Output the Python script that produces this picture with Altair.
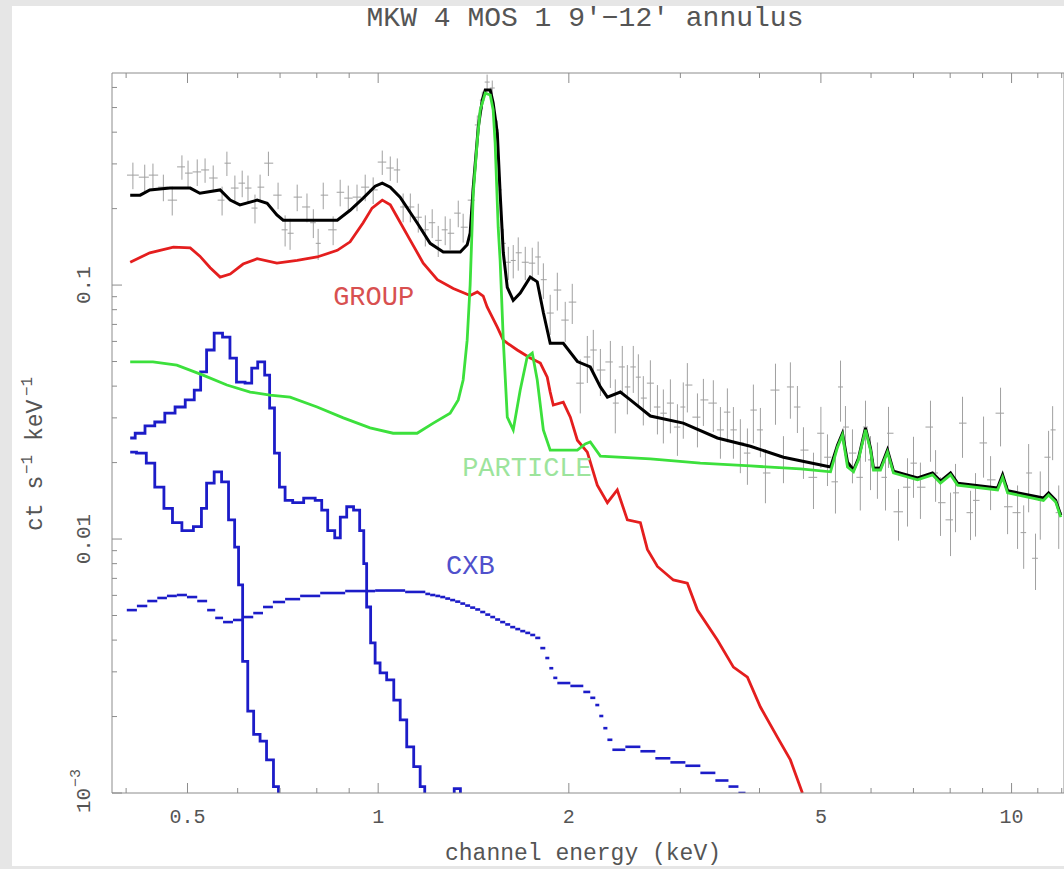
import altair as alt
import pandas as pd
import numpy as np

TITLE = "MKW 4 MOS 1 9′−12′ annulus"
X_TITLE = "channel energy (keV)"
Y_TITLE_PARTS = ["ct s", "−1", "keV", "−1"]

X_DOMAIN = [0.38, 12.1]
Y_DOMAIN = [0.001, 0.684]
X_MAJOR = [0.5, 1, 2, 5, 10]
X_LABELS = ["0.5", "1", "2", "5", "10"]
X_MINOR = [0.4, 0.6, 0.7, 0.8, 0.9, 3, 4, 6, 7, 8, 9, 11, 12]
Y_MAJOR = [0.01, 0.1]
Y_LABELS = ["0.01", "0.1"]
Y_POW = [0.001]
Y_POW_BASE = ["10"]
Y_POW_EXP = ["−3"]
Y_MINOR = [0.002, 0.003, 0.004, 0.005, 0.006, 0.007, 0.008, 0.009,
           0.02, 0.03, 0.04, 0.05, 0.06, 0.07, 0.08, 0.09,
           0.2, 0.3, 0.4, 0.5, 0.6]

# observed spectrum (gray crosses)
DATA_E = [0.410, 0.428, 0.441, 0.458, 0.473, 0.490, 0.501, 0.518, 0.533, 0.549,
          0.567, 0.577, 0.594, 0.610, 0.623, 0.639, 0.651, 0.671, 0.695, 0.713,
          0.726, 0.745, 0.772, 0.790, 0.804, 0.819, 0.849, 0.871, 0.897, 0.926,
          0.954, 0.982, 1.015, 1.045, 1.072, 1.095, 1.124, 1.157, 1.187, 1.217,
          1.244, 1.276, 1.299, 1.338, 1.362, 1.408, 1.434, 1.460, 1.486, 1.514,
          1.542, 1.558, 1.576, 1.605, 1.634, 1.664, 1.707, 1.751, 1.789, 1.823,
          1.869, 1.918, 1.974, 2.025, 2.085, 2.139, 2.186, 2.243, 2.326, 2.368,
          2.429, 2.474, 2.528, 2.575, 2.622, 2.690, 2.760, 2.820, 2.893, 2.968,
          3.032, 3.077, 3.192, 3.262, 3.382, 3.470, 3.559, 3.638, 3.731, 3.828,
          3.912, 4.013, 4.087, 4.239, 4.364, 4.475, 4.591, 4.693, 4.867, 5.000,
          5.121, 5.272, 5.370, 5.467, 5.608, 5.770, 5.880, 5.988, 6.141, 6.324,
          6.393, 6.630, 6.850, 7.001, 7.180, 7.447, 7.586, 7.723, 8.010, 8.157,
          8.367, 8.614, 8.772, 9.032, 9.265, 9.607, 9.856, 10.22, 10.45, 10.64,
          10.91, 11.10, 11.44, 11.61, 11.87]
DATA_V = [0.271, 0.266, 0.271, 0.243, 0.216, 0.292, 0.276, 0.279, 0.284, 0.264,
          0.216, 0.302, 0.241, 0.252, 0.241, 0.201, 0.243, 0.302, 0.226, 0.165,
          0.160, 0.222, 0.203, 0.176, 0.146, 0.226, 0.165, 0.232, 0.220, 0.222,
          0.243, 0.237, 0.305, 0.289, 0.284, 0.203, 0.203, 0.185, 0.165, 0.176,
          0.150, 0.165, 0.160, 0.192, 0.169, 0.216, 0.427, 0.535, 0.630, 0.597,
          0.408, 0.237, 0.146, 0.123, 0.125, 0.134, 0.123, 0.122, 0.129, 0.105,
          0.0776, 0.0956, 0.0728, 0.0857, 0.0411, 0.0521, 0.0555, 0.0463, 0.0498, 0.0343,
          0.0476, 0.0397, 0.0476, 0.0434, 0.0359, 0.0411, 0.0331, 0.0313, 0.0343, 0.0276,
          0.0331, 0.0404, 0.0302, 0.0353, 0.0343, 0.0269, 0.0316, 0.0269, 0.0239, 0.0218,
          0.0322, 0.0269, 0.0182, 0.0386, 0.0210, 0.0397, 0.0331, 0.0224, 0.0175, 0.0261,
          0.0210, 0.0168, 0.0397, 0.0276, 0.0218, 0.0175, 0.0276, 0.0205, 0.0192, 0.0175,
          0.0261, 0.0128, 0.0160, 0.0199, 0.0160, 0.0276, 0.0182, 0.0139, 0.0119, 0.0152,
          0.0286, 0.0127, 0.0142, 0.0239, 0.0171, 0.0313, 0.0134, 0.0127, 0.0106, 0.0182,
          0.0084, 0.0142, 0.0210, 0.0269, 0.0127]
DATA_REL = [0.12, 0.12, 0.11, 0.12, 0.13, 0.11, 0.12, 0.12, 0.11, 0.12,
            0.13, 0.11, 0.12, 0.12, 0.12, 0.13, 0.12, 0.11, 0.12, 0.14,
            0.14, 0.12, 0.13, 0.13, 0.14, 0.12, 0.13, 0.12, 0.12, 0.12,
            0.12, 0.12, 0.11, 0.11, 0.11, 0.13, 0.13, 0.13, 0.14, 0.13,
            0.14, 0.13, 0.14, 0.12, 0.13, 0.12,
            0.09, 0.08, 0.07, 0.07, 0.09, 0.12,
            0.14, 0.15, 0.15, 0.15, 0.15, 0.15, 0.15, 0.16, 0.18, 0.17,
            0.18, 0.18, 0.24, 0.21, 0.20, 0.21, 0.21, 0.24, 0.21, 0.22,
            0.21, 0.23, 0.22, 0.23, 0.22, 0.24, 0.24, 0.23, 0.25, 0.22,
            0.24, 0.21, 0.23, 0.23, 0.24, 0.23, 0.24, 0.25, 0.26, 0.22,
            0.24, 0.27, 0.21, 0.25, 0.21, 0.23, 0.25, 0.27, 0.23, 0.25,
            0.27, 0.21, 0.24, 0.26, 0.27, 0.24, 0.25, 0.26, 0.27, 0.23,
            0.30, 0.27, 0.25, 0.27, 0.23, 0.26, 0.28, 0.30, 0.27, 0.22,
            0.28, 0.27, 0.24, 0.26, 0.22, 0.28, 0.28, 0.30, 0.25, 0.30,
            0.27, 0.24, 0.28]

# total model (black)
TOTAL_E = [0.406, 0.421, 0.436, 0.469, 0.505, 0.523, 0.563, 0.584, 0.605, 0.644,
           0.668, 0.692, 0.708, 0.862, 0.903, 0.947, 0.989, 1.015, 1.045, 1.083,
           1.152, 1.208, 1.267, 1.348, 1.382, 1.397, 1.413, 1.439, 1.460, 1.476,
           1.503, 1.519, 1.542, 1.558, 1.576, 1.599, 1.634, 1.676, 1.738, 1.783,
           1.823, 1.869, 1.960, 2.063, 2.162, 2.243, 2.301, 2.412, 2.501, 2.690,
           3.032, 3.432, 3.870, 4.364, 5.178, 5.311, 5.408, 5.508, 5.629, 5.732,
           5.880, 5.988, 6.053, 6.209, 6.369, 6.510, 7.104, 7.502, 7.723, 8.010,
           8.217, 9.504, 9.679, 9.856, 11.23, 11.44, 11.74, 11.96]
TOTAL_V = [0.226, 0.226, 0.237, 0.241, 0.241, 0.230, 0.237, 0.216, 0.207, 0.216,
           0.210, 0.189, 0.180, 0.180, 0.197, 0.220, 0.245, 0.252, 0.243, 0.222,
           0.176, 0.146, 0.135, 0.135, 0.144, 0.160, 0.243, 0.419, 0.535, 0.586,
           0.586, 0.521, 0.397, 0.230, 0.134, 0.098, 0.087, 0.093, 0.1075, 0.103,
           0.078, 0.059, 0.059, 0.050, 0.0476, 0.0397, 0.0362, 0.0379, 0.0353, 0.0305,
           0.0286, 0.0250, 0.0232, 0.0210, 0.0192, 0.0234, 0.0261, 0.0201, 0.0187, 0.0208,
           0.0274, 0.0228, 0.0190, 0.0190, 0.0224, 0.0185, 0.0174, 0.0182, 0.0169, 0.0182,
           0.0166, 0.0159, 0.0179, 0.0155, 0.0145, 0.0152, 0.0142, 0.0124]

# GROUP (red)
GROUP_E = [0.406, 0.436, 0.475, 0.505, 0.523, 0.543, 0.563, 0.584, 0.612, 0.644,
           0.692, 0.745, 0.801, 0.862, 0.903, 0.947, 0.978, 1.015, 1.045, 1.072,
           1.124, 1.178, 1.240, 1.314, 1.397, 1.434, 1.465, 1.486, 1.503, 1.542,
           1.576, 1.599, 1.658, 1.738, 1.803, 1.849, 1.869, 1.890, 1.960, 2.011,
           2.063, 2.139, 2.218, 2.301, 2.385, 2.474, 2.594, 2.661, 2.760, 2.924,
           3.077, 3.192, 3.432, 3.638, 3.828, 4.013, 4.268, 4.475, 4.675]
GROUP_V = [0.123, 0.134, 0.141, 0.140, 0.130, 0.117, 0.1075, 0.1105, 0.121, 0.127,
           0.122, 0.125, 0.129, 0.137, 0.148, 0.176, 0.201, 0.216, 0.207, 0.185,
           0.150, 0.122, 0.105, 0.097, 0.091, 0.094, 0.0905, 0.082, 0.0776, 0.0683,
           0.0607, 0.0591, 0.0555, 0.0516, 0.0493, 0.0434, 0.0379, 0.0337, 0.0346, 0.0302,
           0.0245, 0.0220, 0.0163, 0.0139, 0.0156, 0.0119, 0.0116, 0.0091, 0.0078, 0.0069,
           0.0067, 0.00525, 0.0040, 0.00313, 0.00286, 0.00218, 0.00166, 0.00135, 0.00100]

# PARTICLE (green)
PART_E = [0.406, 0.441, 0.481, 0.529, 0.577, 0.628, 0.675, 0.726, 0.801, 0.881,
          0.971, 1.056, 1.152, 1.222, 1.299, 1.338, 1.362, 1.382, 1.397, 1.413,
          1.434, 1.449, 1.476, 1.503, 1.519, 1.530, 1.547, 1.558, 1.576, 1.599,
          1.634, 1.676, 1.719, 1.751, 1.783, 1.823, 1.869, 2.063, 2.123, 2.162,
          2.243, 2.690, 3.226, 3.870, 4.642, 5.178, 5.311, 5.408, 5.508, 5.629,
          5.732, 5.880, 5.988, 6.053, 6.209, 6.369, 6.510, 7.104, 7.502, 7.723,
          8.010, 8.217, 9.504, 9.679, 9.856, 11.23, 11.44, 11.74, 11.96]
PART_V = [0.0498, 0.0498, 0.0484, 0.0442, 0.0404, 0.0379, 0.0369, 0.0362, 0.0331, 0.0300,
          0.0274, 0.0261, 0.0261, 0.0286, 0.0313, 0.0353, 0.0423, 0.0607, 0.100, 0.230,
          0.372, 0.489, 0.570, 0.560, 0.489, 0.362, 0.169, 0.125, 0.0607, 0.0302,
          0.0269, 0.0386, 0.0521, 0.0540, 0.0423, 0.0269, 0.0224, 0.0224, 0.0237, 0.0241,
          0.0212, 0.0207, 0.0199, 0.0194, 0.0189, 0.0184, 0.0230, 0.0257, 0.0192, 0.0184,
          0.0205, 0.0269, 0.0224, 0.0187, 0.0187, 0.0220, 0.0182, 0.0171, 0.0179, 0.0166,
          0.0179, 0.0163, 0.0156, 0.0175, 0.0152, 0.0142, 0.0149, 0.0140, 0.0122]

# soft foreground components (blue, peaky)
SOFT1_E = [0.406, 0.421, 0.436, 0.452, 0.469, 0.487, 0.505, 0.520, 0.529, 0.543,
           0.559, 0.577, 0.590, 0.605, 0.628, 0.635, 0.656, 0.668, 0.680, 0.692,
           0.705, 0.721, 0.745, 0.781, 0.810, 0.819, 0.846, 0.862, 0.881, 0.903,
           0.926, 0.944, 0.954, 0.964, 0.982, 0.996, 1.018, 1.045, 1.072, 1.095,
           1.124, 1.152, 1.178, 1.191]
SOFT1_V = [0.0250, 0.0261, 0.0279, 0.0289, 0.0313, 0.0331, 0.0353, 0.0386, 0.0455, 0.0555,
           0.0647, 0.0624, 0.0516, 0.0415, 0.0411, 0.0471, 0.0498, 0.0442, 0.0328, 0.0218,
           0.0160, 0.0142, 0.0139, 0.0145, 0.0142, 0.0130, 0.0108, 0.0101, 0.0122, 0.0134,
           0.0130, 0.0108, 0.0080, 0.0054, 0.0039, 0.00325, 0.00297, 0.00279, 0.00232, 0.00194,
           0.00152, 0.00127, 0.00106, 0.00098]
SOFT2_E = [0.406, 0.425, 0.436, 0.452, 0.466, 0.481, 0.499, 0.523, 0.529, 0.543,
           0.559, 0.573, 0.588, 0.599, 0.605, 0.617, 0.628, 0.644, 0.658, 0.675,
           0.692, 0.700]
SOFT2_V = [0.0220, 0.0218, 0.0199, 0.0160, 0.0132, 0.0116, 0.0108, 0.0112, 0.0132, 0.0166,
           0.0184, 0.0168, 0.0119, 0.0093, 0.0066, 0.0033, 0.0021, 0.0017, 0.0016, 0.00135,
           0.00106, 0.00098]
BLIP_E = [1.315, 1.322, 1.345, 1.352]
BLIP_V = [0.00095, 0.00104, 0.00104, 0.00095]

# CXB (blue, binned)
CXB_E = [0.401, 0.416, 0.432, 0.448, 0.464, 0.481, 0.499, 0.518, 0.537, 0.553,
         0.569, 0.590, 0.612, 0.635, 0.658, 0.682, 0.713, 0.753, 0.810, 0.887,
         0.989, 1.103, 1.187, 1.208, 1.231, 1.253, 1.276, 1.299, 1.323, 1.348,
         1.372, 1.397, 1.423, 1.449, 1.476, 1.503, 1.530, 1.558, 1.587, 1.616,
         1.646, 1.676, 1.707, 1.738, 1.770, 1.803, 1.836, 1.863, 1.890, 1.918,
         2.011, 2.108, 2.162, 2.202, 2.234, 2.267, 2.301, 2.343, 2.456, 2.594,
         2.739, 2.893, 3.055, 3.226, 3.407, 3.573, 3.705]
CXB_V = [0.00525, 0.00545, 0.00570, 0.00586, 0.00597, 0.00602, 0.00591, 0.00570, 0.00525, 0.00489,
         0.00471, 0.00480, 0.00493, 0.00511, 0.00540, 0.00565, 0.00580, 0.00597, 0.00613, 0.00624,
         0.00627, 0.00619, 0.00608, 0.00602, 0.00597, 0.00591, 0.00583, 0.00575, 0.00567, 0.00557,
         0.00547, 0.00537, 0.00528, 0.00516, 0.00504, 0.00493, 0.00482, 0.00471, 0.00461, 0.00450,
         0.00442, 0.00434, 0.00427, 0.00419, 0.00408, 0.00372, 0.00340, 0.00310, 0.00284, 0.00271,
         0.00264, 0.00250, 0.00237, 0.00222, 0.00201, 0.00180, 0.00162, 0.00148, 0.00152, 0.00146,
         0.00137, 0.00132, 0.00128, 0.00120, 0.00112, 0.00106, 0.00100]
CXB_END = 3.801

LABELS = ["GROUP", "PARTICLE", "CXB"]
LABEL_E = [0.849, 1.357, 1.28]
LABEL_V = [0.0897, 0.0190, 0.00785]
LABEL_COLORS = ["#d85050", "#9ce49c", "#5050cc"]

FONT = "Liberation Mono"
TXT = "#555555"
TICK = "#8c8c8c"
RED = "#e41e1e"
GREEN = "#3ce03c"
BLUE = "#1c1cc8"
FRAME_BG = "#e6e6e6"
W, H = 952, 720

xs = alt.Scale(type="log", domain=X_DOMAIN, nice=False)
ys = alt.Scale(type="log", domain=Y_DOMAIN, nice=False)


def X(f, **kw):
    return alt.X(f, type="quantitative", scale=xs, axis=None, **kw)


def Y(f, **kw):
    return alt.Y(f, type="quantitative", scale=ys, axis=None, **kw)


# tables
n = min(len(DATA_E), len(DATA_V), len(DATA_REL))
e = np.array(DATA_E[:n])
v = np.array(DATA_V[:n])
r = np.array(DATA_REL[:n])
mid = np.sqrt(e[:-1] * e[1:])
data = pd.DataFrame({
    "E": e, "V": v,
    "lo": v * (1 - r), "hi": v * (1 + r),
    "elo": np.concatenate([[e[0] ** 2 / mid[0]], mid]),
    "ehi": np.concatenate([mid, [e[-1] ** 2 / mid[-1]]]),
})


def curve(E, V):
    m = min(len(E), len(V))
    return pd.DataFrame({"E": E[:m], "V": V[:m]})


cxb = pd.DataFrame({"lo": CXB_E, "hi": CXB_E[1:] + [CXB_END], "V": CXB_V})
one = pd.DataFrame({"a": [0]})

# light gray outer strips (outside the white page area)
strips = [
    alt.Chart(one).mark_rect(fill=FRAME_BG).encode(
        x=alt.value(-112), x2=alt.value(-100), y=alt.value(-73), y2=alt.value(H + 76)),
    alt.Chart(one).mark_rect(fill=FRAME_BG).encode(
        x=alt.value(-112), x2=alt.value(W), y=alt.value(-73), y2=alt.value(-67)),
    alt.Chart(one).mark_rect(fill=FRAME_BG).encode(
        x=alt.value(-112), x2=alt.value(W), y=alt.value(H + 73), y2=alt.value(H + 76)),
]

err_v = alt.Chart(data).mark_rule(color="#a0a0a0", strokeWidth=1, clip=True).encode(
    x=X("E"), y=Y("lo"), y2="hi")
err_h = alt.Chart(data).mark_rule(color="#a0a0a0", strokeWidth=1, clip=True).encode(
    x=X("elo"), x2="ehi", y=Y("V"))


def model_line(df, color, width=2.8, interp="linear"):
    return alt.Chart(df).mark_line(interpolate=interp, color=color, strokeWidth=width,
                                   clip=True).encode(x=X("E"), y=Y("V"))


cxb_layer = alt.Chart(cxb).mark_rule(color=BLUE, strokeWidth=2.6, clip=True).encode(
    x=X("lo"), x2="hi", y=Y("V"))

soft1 = model_line(curve(SOFT1_E, SOFT1_V), BLUE, interp="step")
soft2 = model_line(curve(SOFT2_E, SOFT2_V), BLUE, interp="step")
blip = model_line(curve(BLIP_E, BLIP_V), BLUE, interp="step")
group = model_line(curve(GROUP_E, GROUP_V), RED)
total = model_line(curve(TOTAL_E, TOTAL_V), "black", 3)
part = model_line(curve(PART_E, PART_V), GREEN)

# ticks (inside the frame)
xmaj = pd.DataFrame({"t": X_MAJOR, "s": X_LABELS})
xmin = pd.DataFrame({"t": X_MINOR})
ymaj = pd.DataFrame({"t": Y_MAJOR + Y_POW})
ylabdf = pd.DataFrame({"t": Y_MAJOR, "s": Y_LABELS})
ypowdf = pd.DataFrame({"t": Y_POW, "b": Y_POW_BASE, "x": Y_POW_EXP})
ymin = pd.DataFrame({"t": Y_MINOR})


def xt(df, y0, y1):
    return alt.Chart(df).mark_rule(color=TICK, strokeWidth=1).encode(
        x=X("t"), y=alt.value(y0), y2=alt.value(y1))


def yt(df, x0, x1):
    return alt.Chart(df).mark_rule(color=TICK, strokeWidth=1).encode(
        y=Y("t"), x=alt.value(x0), x2=alt.value(x1))


ticks = [xt(xmaj, H, H - 10), xt(xmin, H, H - 5), xt(xmaj, 0, 10), xt(xmin, 0, 5),
         yt(ymaj, 0, 10), yt(ymin, 0, 5)]

frame = alt.Chart(one).mark_rect(filled=False, stroke=TICK, strokeWidth=1).encode(
    x=alt.value(0), x2=alt.value(W), y=alt.value(0), y2=alt.value(H))

# tick labels and titles (rotated text: dx runs upward, negative dy moves left)
xlab = alt.Chart(xmaj).mark_text(font=FONT, fontSize=20, color=TXT, baseline="middle").encode(
    x=X("t"), y=alt.value(H + 24), text="s:N")
ylab = alt.Chart(ylabdf).mark_text(font=FONT, fontSize=21, color=TXT, angle=270,
                                   align="center", baseline="middle").encode(
    y=Y("t"), x=alt.value(-28), text="s:N")
ypow_base = alt.Chart(ypowdf).mark_text(font=FONT, fontSize=21, color=TXT, angle=270,
                                        align="left", baseline="middle", dx=-20).encode(
    y=Y("t"), x=alt.value(-28), text="b:N")
ypow_exp = alt.Chart(ypowdf).mark_text(font=FONT, fontSize=15, color=TXT, angle=270,
                                       align="left", baseline="middle", dx=6, dy=-9).encode(
    y=Y("t"), x=alt.value(-28), text="x:N")

xtitle = alt.Chart(one).mark_text(text=X_TITLE, font=FONT, fontSize=23, color=TXT,
                                  baseline="middle").encode(
    x=alt.value(W / 2 - 5), y=alt.value(H + 60))

YT_X, YT_Y = -70, 458
yt_offsets = [0, 57, 90, 135]
yt_raise = [0, -10, 0, -10]
yt_size = [23, 16, 23, 16]
ytitle = [
    alt.Chart(one).mark_text(text=txt, font=FONT, fontSize=fs, color=TXT, angle=270,
                             align="left", baseline="alphabetic", dx=dx, dy=dy).encode(
        x=alt.value(YT_X), y=alt.value(YT_Y))
    for txt, dx, dy, fs in zip(Y_TITLE_PARTS, yt_offsets, yt_raise, yt_size)
]

title = alt.Chart(one).mark_text(text=TITLE, font=FONT, fontSize=28, color=TXT,
                                 baseline="middle").encode(
    x=alt.value(W / 2 - 3), y=alt.value(-55))

labels = alt.Chart(pd.DataFrame({"t": LABELS, "E": LABEL_E, "V": LABEL_V, "c": LABEL_COLORS})).mark_text(
    font=FONT, fontSize=27, align="left", baseline="middle").encode(
    x=X("E"), y=Y("V"), text="t:N", color=alt.Color("c:N", scale=None))

chart = alt.layer(
    *strips, err_v, err_h, cxb_layer, soft1, soft2, blip, group, total, part,
    *ticks, frame, labels, xlab, ylab, ypow_base, ypow_exp, xtitle, *ytitle, title
).properties(
    width=W, height=H,
    autosize=alt.AutoSizeParams(type="none"),
    padding={"left": 112, "top": 73, "right": 0, "bottom": 76},
    background="white",
).configure_view(strokeWidth=0)

chart.save("out.html", embed_options={"renderer": "svg", "actions": False})
